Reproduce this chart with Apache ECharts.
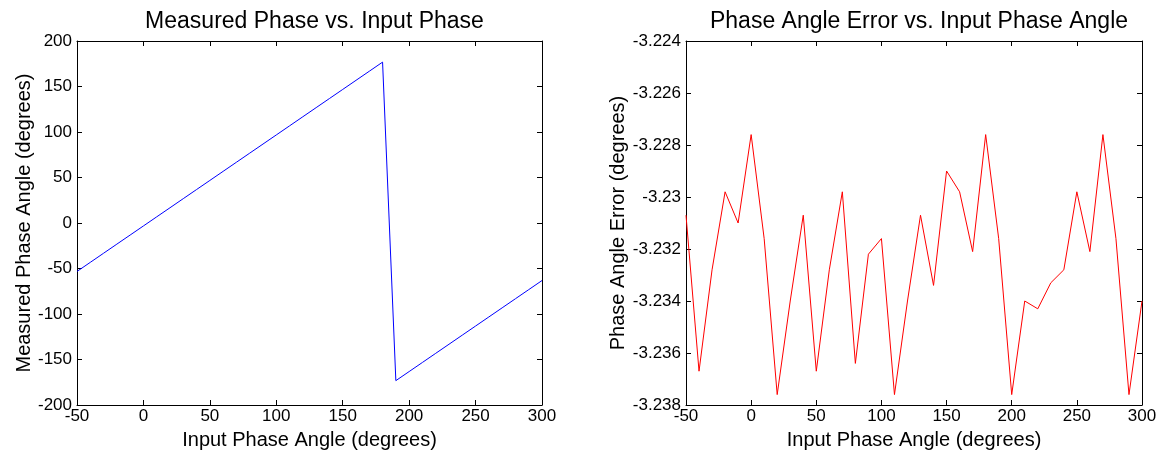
<!DOCTYPE html>
<html>
<head>
<meta charset="utf-8">
<script src="https://cdn.jsdelivr.net/npm/echarts@6/dist/echarts.min.js"></script>
<style>
html,body{margin:0;padding:0;background:#fff;}
#chart{width:1160px;height:458px;}
</style>
</head>
<body>
<div id="chart"></div>
<script>
// ---- data ----
const inputPhase = [-50,-40,-30,-20,-10,0,10,20,30,40,50,60,70,80,90,100,110,120,130,140,150,160,170,180,190,200,210,220,230,240,250,260,270,280,290,300];
const measuredPhase = [-53.23,-43.24,-33.23,-23.23,-13.23,-3.23,6.77,16.76,26.77,36.77,46.76,56.77,66.77,76.76,86.77,96.77,106.76,116.77,126.77,136.77,146.77,156.77,166.77,176.77,-173.23,-163.24,-153.23,-143.23,-133.23,-123.23,-113.23,-103.23,-93.23,-83.23,-73.24,-63.23];
const phaseError = [-3.2307,-3.2367,-3.2328,-3.2298,-3.2310,-3.2276,-3.2316,-3.2376,-3.2340,-3.2307,-3.2367,-3.2328,-3.2298,-3.2364,-3.2322,-3.2316,-3.2376,-3.2340,-3.2307,-3.2334,-3.2290,-3.2298,-3.2321,-3.2276,-3.2316,-3.2376,-3.2340,-3.2343,-3.2333,-3.2328,-3.2298,-3.2321,-3.2276,-3.2316,-3.2376,-3.2340];
const titles = ['Measured Phase vs. Input Phase', 'Phase Angle Error vs. Input Phase Angle'];
const xName = 'Input Phase Angle (degrees)';
const yNames = ['Measured Phase Angle (degrees)', 'Phase Angle Error (degrees)'];

const FONT = 'Liberation Sans, Arial, Helvetica, sans-serif';
const chart = echarts.init(document.getElementById('chart'), null, {renderer: 'canvas'});

const grids = [
  {left: 77, top: 41, width: 465, height: 364},
  {left: 686, top: 41, width: 456, height: 364}
];
const yRanges = [
  {min: -200, max: 200, interval: 50},
  {min: -3.238, max: -3.224, interval: 0.002}
];
const axisLine = {show: true, onZero: false, lineStyle: {color: '#000', width: 1}};
const tick = {show: true, inside: true, length: 5, lineStyle: {color: '#000'}};
const lbl = {color: '#000', fontFamily: FONT, fontSize: 17};

const xAxis = [], yAxis = [];
const yNameGaps = [40, 56];
for (let i = 0; i < 2; i++) {
  xAxis.push({type: 'value', gridIndex: i, min: -50, max: 300, interval: 50, position: 'bottom',
    name: xName, nameLocation: 'middle', nameGap: 25,
    nameTextStyle: {color: '#000', fontFamily: FONT, fontSize: 20},
    axisLine: axisLine, axisTick: tick, splitLine: {show: false},
    axisLabel: Object.assign({margin: 3}, lbl)});
  xAxis.push({type: 'value', gridIndex: i, min: -50, max: 300, interval: 50, position: 'top',
    axisLine: axisLine, axisTick: tick, splitLine: {show: false}, axisLabel: {show: false}});
  yAxis.push(Object.assign({type: 'value', gridIndex: i, position: 'left',
    name: yNames[i], nameLocation: 'middle', nameGap: yNameGaps[i],
    nameTextStyle: {color: '#000', fontFamily: FONT, fontSize: 20},
    axisLine: axisLine, axisTick: tick, splitLine: {show: false},
    axisLabel: Object.assign({margin: 5, formatter: v => String(Number(v.toFixed(3)))}, lbl)}, yRanges[i]));
  yAxis.push(Object.assign({type: 'value', gridIndex: i, position: 'right',
    axisLine: axisLine, axisTick: tick, splitLine: {show: false}, axisLabel: {show: false}}, yRanges[i]));
}

const option = {
  backgroundColor: '#fff',
  animation: false,
  title: titles.map((t, i) => ({
    text: t, left: grids[i].left + grids[i].width / 2, top: 5, textAlign: 'center',
    textStyle: {color: '#000', fontFamily: FONT, fontSize: 23, fontWeight: 'normal'}
  })),
  grid: grids,
  xAxis: xAxis,
  yAxis: yAxis,
  series: [
    {type: 'line', xAxisIndex: 0, yAxisIndex: 0, data: inputPhase.map((x, k) => [x, measuredPhase[k]]),
      showSymbol: false, lineStyle: {color: '#0000ff', width: 1}, itemStyle: {color: '#0000ff'}},
    {type: 'line', xAxisIndex: 2, yAxisIndex: 2, data: inputPhase.map((x, k) => [x, phaseError[k]]),
      showSymbol: false, lineStyle: {color: '#ff0000', width: 1}, itemStyle: {color: '#ff0000'}}
  ]
};
chart.setOption(option);
</script>
</body>
</html>
